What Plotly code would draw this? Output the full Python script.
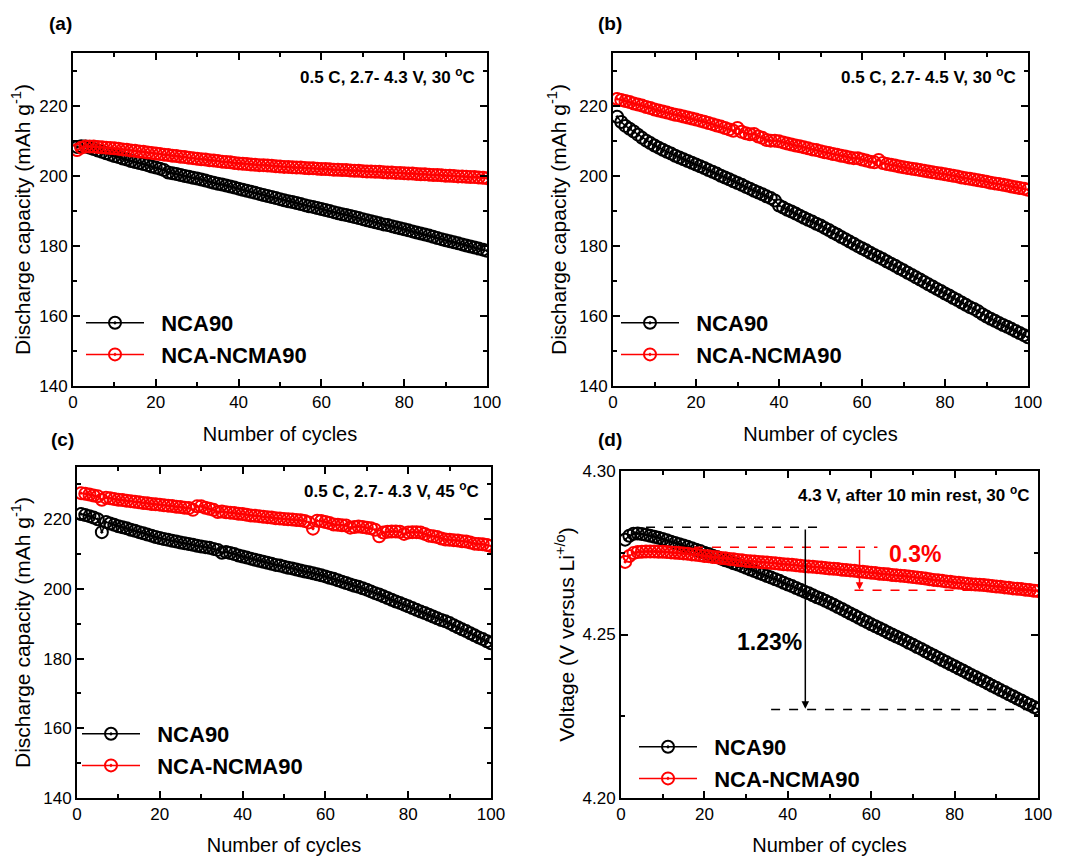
import plotly.graph_objects as go

cycles = list(range(1, 101))

# (a) 0.5 C, 2.7-4.3 V, 30 C
a_nca90 = [208.2, 208.4, 208.3, 208.0, 207.6, 207.2, 206.8, 206.4, 206.0, 205.6,
           205.3, 204.9, 204.6, 204.2, 203.9, 203.6, 203.3, 203.0, 202.6, 202.3,
           202.0, 201.6, 200.9, 200.7, 200.5, 200.2, 199.9, 199.7, 199.4, 199.2,
           198.9, 198.6, 198.3, 198.0, 197.7, 197.5, 197.2, 196.9, 196.6, 196.3,
           196.0, 195.7, 195.4, 195.1, 194.8, 194.5, 194.2, 193.9, 193.6, 193.3,
           193.0, 192.7, 192.5, 192.2, 191.9, 191.6, 191.3, 191.1, 190.8, 190.5,
           190.2, 189.9, 189.6, 189.3, 189.0, 188.8, 188.5, 188.2, 187.9, 187.6,
           187.3, 187.0, 186.7, 186.4, 186.1, 185.9, 185.6, 185.3, 185.0, 184.7,
           184.4, 184.1, 183.8, 183.5, 183.2, 182.9, 182.6, 182.2, 181.9, 181.6,
           181.3, 181.0, 180.7, 180.4, 180.1, 179.8, 179.5, 179.2, 178.9, 178.6]
a_ncma90 = [207.3, 208.0, 208.3, 208.3, 208.3, 208.2, 208.1, 208.0, 207.9, 207.8,
            207.7, 207.5, 207.4, 207.2, 207.1, 206.9, 206.8, 206.6, 206.5, 206.3,
            206.2, 206.0, 205.9, 205.7, 205.6, 205.4, 205.3, 205.1, 205.0, 204.8,
            204.7, 204.6, 204.4, 204.3, 204.2, 204.0, 203.9, 203.8, 203.6, 203.5,
            203.4, 203.3, 203.2, 203.1, 203.0, 203.0, 202.9, 202.8, 202.7, 202.6,
            202.5, 202.5, 202.4, 202.3, 202.3, 202.2, 202.1, 202.1, 202.0, 201.9,
            201.9, 201.8, 201.7, 201.7, 201.6, 201.6, 201.5, 201.4, 201.4, 201.3,
            201.2, 201.2, 201.1, 201.1, 201.0, 200.9, 200.9, 200.8, 200.8, 200.7,
            200.6, 200.6, 200.5, 200.4, 200.4, 200.3, 200.2, 200.2, 200.1, 200.0,
            200.0, 199.9, 199.8, 199.8, 199.7, 199.6, 199.6, 199.5, 199.4, 199.3]

# (b) 0.5 C, 2.7-4.5 V, 30 C
b_nca90 = [216.8, 215.3, 214.2, 213.4, 212.6, 211.7, 210.8, 210.0, 209.3, 208.6,
           208.0, 207.4, 206.8, 206.3, 205.7, 205.2, 204.7, 204.2, 203.7, 203.2,
           202.7, 202.2, 201.6, 201.1, 200.6, 200.0, 199.5, 199.0, 198.4, 197.9,
           197.4, 196.8, 196.3, 195.7, 195.2, 194.7, 194.1, 193.6, 192.9, 191.5,
           190.9, 190.3, 189.8, 189.2, 188.6, 188.0, 187.4, 186.9, 186.3, 185.8,
           185.1, 184.5, 183.8, 183.2, 182.5, 181.9, 181.2, 180.6, 179.9, 179.3,
           178.7, 178.0, 177.4, 176.8, 176.2, 175.5, 174.9, 174.3, 173.6, 173.0,
           172.3, 171.7, 171.0, 170.4, 169.7, 169.0, 168.4, 167.7, 167.1, 166.4,
           165.8, 165.1, 164.5, 163.8, 163.2, 162.5, 162.0, 161.3, 160.5, 159.8,
           159.2, 158.6, 158.0, 157.4, 156.9, 156.3, 155.7, 155.1, 154.5, 153.9]
b_ncma90 = [221.9, 221.6, 221.3, 221.0, 220.6, 220.3, 220.0, 219.6, 219.3, 218.9,
            218.6, 218.3, 218.0, 217.7, 217.4, 217.2, 216.9, 216.6, 216.3, 216.0,
            215.7, 215.4, 215.0, 214.7, 214.3, 214.0, 213.6, 213.2, 212.8, 213.6,
            212.5, 212.1, 211.8, 211.9, 211.2, 210.8, 210.2, 210.0, 210.0, 209.8,
            209.5, 209.2, 208.9, 208.6, 208.4, 208.1, 207.8, 207.5, 207.3, 207.0,
            206.7, 206.5, 206.2, 206.0, 205.7, 205.5, 205.2, 205.0, 205.0, 204.6,
            204.3, 204.0, 203.8, 204.5, 203.6, 203.3, 203.1, 202.9, 202.6, 202.4,
            202.2, 202.0, 201.8, 201.6, 201.4, 201.2, 201.0, 200.8, 200.6, 200.4,
            200.2, 200.0, 199.8, 199.5, 199.3, 199.1, 198.9, 198.7, 198.5, 198.3,
            198.0, 197.8, 197.6, 197.4, 197.2, 196.9, 196.7, 196.5, 196.3, 196.0]

# (c) 0.5 C, 2.7-4.3 V, 45 C
c_nca90 = [221.5, 221.2, 220.9, 220.5, 220.0, 216.3, 219.2, 218.8, 218.4, 218.0,
           217.7, 217.4, 217.0, 216.7, 216.3, 216.0, 215.6, 215.3, 214.9, 214.6,
           214.3, 214.1, 213.8, 213.6, 213.3, 213.1, 212.9, 212.7, 212.4, 212.2,
           212.0, 211.8, 211.5, 211.2, 210.4, 210.6, 210.3, 210.0, 209.6, 209.3,
           209.0, 208.7, 208.4, 208.1, 207.8, 207.5, 207.2, 206.9, 206.7, 206.4,
           206.1, 205.9, 205.6, 205.3, 205.0, 204.8, 204.5, 204.2, 203.9, 203.6,
           203.2, 202.9, 202.5, 202.1, 201.7, 201.3, 200.9, 200.6, 200.2, 199.8,
           199.3, 198.8, 198.4, 197.9, 197.4, 196.9, 196.4, 196.0, 195.5, 195.0,
           194.5, 194.0, 193.5, 193.1, 192.6, 192.1, 191.6, 191.1, 190.7, 190.2,
           189.6, 189.0, 188.4, 187.9, 187.3, 186.7, 186.1, 185.6, 185.0, 184.4]
c_ncma90 = [227.5, 227.3, 227.1, 226.8, 226.6, 225.6, 226.2, 226.0, 225.8, 225.6,
            225.5, 225.3, 225.2, 225.0, 224.9, 224.7, 224.6, 224.4, 224.3, 224.2,
            224.0, 223.9, 223.8, 223.6, 223.5, 223.3, 223.2, 222.7, 223.7, 223.7,
            223.3, 223.0, 222.7, 222.1, 222.2, 222.0, 221.9, 221.8, 221.6, 221.5,
            221.3, 221.1, 221.0, 220.9, 220.7, 220.6, 220.5, 220.3, 220.2, 220.1,
            220.0, 219.9, 219.8, 219.7, 219.5, 219.1, 217.3, 219.6, 219.5, 219.2,
            218.9, 218.5, 218.4, 218.3, 218.2, 217.6, 217.8, 217.9, 217.8, 217.6,
            217.4, 217.0, 215.1, 216.2, 216.4, 216.5, 216.5, 216.4, 215.8, 216.2,
            216.3, 216.3, 216.2, 215.8, 215.3, 215.1, 214.9, 214.5, 214.2, 214.1,
            214.0, 213.9, 213.7, 213.6, 213.3, 213.0, 212.9, 212.8, 212.6, 212.3]

# (d) 4.3 V, after 10 min rest, 30 C
d_nca90 = [4.2790, 4.2802, 4.2808, 4.2809, 4.2807, 4.2805, 4.2802, 4.2799, 4.2796, 4.2792,
           4.2788, 4.2784, 4.2780, 4.2776, 4.2772, 4.2768, 4.2764, 4.2759, 4.2755, 4.2750,
           4.2746, 4.2741, 4.2737, 4.2732, 4.2727, 4.2723, 4.2718, 4.2714, 4.2709, 4.2704,
           4.2699, 4.2694, 4.2689, 4.2684, 4.2679, 4.2674, 4.2669, 4.2664, 4.2658, 4.2653,
           4.2648, 4.2642, 4.2637, 4.2631, 4.2626, 4.2620, 4.2614, 4.2609, 4.2603, 4.2597,
           4.2591, 4.2584, 4.2578, 4.2571, 4.2564, 4.2558, 4.2551, 4.2544, 4.2538, 4.2531,
           4.2525, 4.2519, 4.2513, 4.2506, 4.2500, 4.2494, 4.2488, 4.2482, 4.2475, 4.2469,
           4.2462, 4.2456, 4.2449, 4.2442, 4.2436, 4.2429, 4.2422, 4.2416, 4.2409, 4.2403,
           4.2396, 4.2390, 4.2383, 4.2376, 4.2370, 4.2363, 4.2357, 4.2350, 4.2343, 4.2337,
           4.2330, 4.2324, 4.2317, 4.2311, 4.2304, 4.2298, 4.2291, 4.2285, 4.2278, 4.2272]
d_ncma90 = [4.2722, 4.2740, 4.2749, 4.2752, 4.2753, 4.2754, 4.2754, 4.2754, 4.2753, 4.2753,
            4.2752, 4.2751, 4.2750, 4.2749, 4.2748, 4.2747, 4.2745, 4.2744, 4.2742, 4.2740,
            4.2739, 4.2737, 4.2736, 4.2734, 4.2733, 4.2731, 4.2730, 4.2728, 4.2727, 4.2725,
            4.2724, 4.2723, 4.2722, 4.2721, 4.2720, 4.2719, 4.2718, 4.2716, 4.2715, 4.2714,
            4.2713, 4.2712, 4.2710, 4.2709, 4.2708, 4.2707, 4.2706, 4.2705, 4.2703, 4.2702,
            4.2701, 4.2700, 4.2698, 4.2697, 4.2696, 4.2695, 4.2693, 4.2692, 4.2690, 4.2689,
            4.2688, 4.2686, 4.2685, 4.2684, 4.2682, 4.2681, 4.2680, 4.2679, 4.2677, 4.2676,
            4.2674, 4.2673, 4.2671, 4.2669, 4.2667, 4.2666, 4.2664, 4.2662, 4.2661, 4.2659,
            4.2658, 4.2657, 4.2655, 4.2654, 4.2653, 4.2652, 4.2651, 4.2650, 4.2648, 4.2647,
            4.2646, 4.2644, 4.2643, 4.2641, 4.2640, 4.2639, 4.2637, 4.2636, 4.2634, 4.2633]

series_names = ["&nbsp;&nbsp;NCA90", "&nbsp;&nbsp;NCA-NCMA90"]
series_colors = ["#000000", "#FF0000"]
panel_labels = ["(a)", "(b)", "(c)", "(d)"]
conditions = ["0.5 C, 2.7- 4.3 V, 30 <sup>o</sup>C",
              "0.5 C, 2.7- 4.5 V, 30 <sup>o</sup>C",
              "0.5 C, 2.7- 4.3 V, 45 <sup>o</sup>C",
              "4.3 V, after 10 min rest, 30 <sup>o</sup>C"]
x_title = "Number of cycles"
y_titles = ["Discharge capacity (mAh g<sup>-1</sup>)"] * 3 + ["Voltage (V versus Li<sup>+/o</sup>)"]
d_annot = {"1.23%": (35.5, 4.2476), "0.3%": (70.5, 4.2747)}

panels = [(a_nca90, a_ncma90), (b_nca90, b_ncma90), (c_nca90, c_ncma90), (d_nca90, d_ncma90)]

FONT = "Liberation Sans, Arial, sans-serif"
# the page body adds an 8px offset; layout is specified in window pixels
OFF = 8
W, H = 1066 - OFF, 856 - OFF


def fx(px):
    return (px - OFF) / W


def fy(py):
    return 1 - (py - OFF) / H


# plot areas in window pixels: left, right, top, bottom
boxes = [(73, 487, 53, 386), (613, 1028, 53, 386), (77, 491, 467, 798), (621, 1038, 471, 798)]
legend_pos = [(81, 302), (616, 302), (77, 713), (634, 726)]
ytitle_standoff = [7, 7, 7, 2]

fig = go.Figure()

for i, (s1, s2) in enumerate(panels):
    k = "" if i == 0 else str(i + 1)
    leg = "legend" if i == 0 else "legend" + str(i + 1)
    for name, color, vals in zip(series_names, series_colors, (s1, s2)):
        fig.add_trace(go.Scatter(
            x=cycles, y=vals, name=name, mode="lines+markers",
            xaxis="x" + k, yaxis="y" + k, legend=leg,
            line=dict(color=color, width=1.5),
            marker=dict(symbol="circle-open-dot", size=12, color=color,
                        line=dict(color=color, width=2)),
        ))

layout = dict(width=W, height=H, margin=dict(l=0, r=0, t=0, b=0, pad=0, autoexpand=False),
              paper_bgcolor="white", plot_bgcolor="white",
              font=dict(family=FONT, color="black"), showlegend=True)

for i in range(4):
    k = "" if i == 0 else str(i + 1)
    l, r, t, b = boxes[i]
    is_v = (i == 3)
    common = dict(showline=True, linecolor="black", linewidth=2, mirror="ticks",
                  ticks="inside", ticklen=7, tickwidth=1.5, tickcolor="black",
                  showgrid=False, zeroline=False, automargin=False,
                  tickfont=dict(family=FONT, size=17, color="black"))
    layout["xaxis" + k] = dict(common, domain=[fx(l), fx(r)], anchor="y" + k,
                               range=[0, 100], dtick=20, tick0=0,
                               minor=dict(dtick=10, ticks="inside", ticklen=4, tickcolor="black", tickwidth=1.5),
                               title=dict(text=x_title, font=dict(family=FONT, size=20), standoff=16))
    layout["yaxis" + k] = dict(common, domain=[fy(b), fy(t)], anchor="x" + k,
                               range=[4.20, 4.30] if is_v else [140, 235],
                               dtick=0.05 if is_v else 20, tick0=4.2 if is_v else 140,
                               tickformat=".2f" if is_v else "d",
                               minor=dict(dtick=0.025 if is_v else 10, ticks="inside", ticklen=4,
                                          tickcolor="black", tickwidth=1.5),
                               title=dict(text=y_titles[i], font=dict(family=FONT, size=21),
                                          standoff=ytitle_standoff[i]))
    lx, ly = legend_pos[i]
    layout["legend" if i == 0 else "legend" + str(i + 1)] = dict(
        x=fx(lx), y=fy(ly), xanchor="left", yanchor="top",
        bgcolor="rgba(0,0,0,0)", font=dict(family=FONT, size=22, weight="bold", color="black"),
        tracegroupgap=0, itemwidth=58)

annotations = []
for i in range(4):
    k = "" if i == 0 else str(i + 1)
    annotations.append(dict(text=conditions[i], xref="x" + k + " domain", yref="y" + k + " domain",
                            x=0.975 if i != 3 else 0.985, y=0.93, xanchor="right", yanchor="middle",
                            showarrow=False, font=dict(family=FONT, size=17, weight="bold")))
label_pos = [(47, 24), (596, 24), (49, 439), (596, 439)]
for lab, (px, py) in zip(panel_labels, label_pos):
    annotations.append(dict(text=lab, xref="paper", yref="paper", x=fx(px), y=fy(py),
                            xanchor="left", yanchor="middle", showarrow=False,
                            font=dict(family=FONT, size=19, weight="bold")))
# panel (d) annotations
annotations.append(dict(text="1.23%", x=d_annot["1.23%"][0], y=d_annot["1.23%"][1], xref="x4", yref="y4",
                        showarrow=False, font=dict(family=FONT, size=23, weight="bold", color="black")))
annotations.append(dict(text="0.3%", x=d_annot["0.3%"][0], y=d_annot["0.3%"][1], xref="x4", yref="y4",
                        showarrow=False, font=dict(family=FONT, size=23, weight="bold", color="#FF0000")))
annotations.append(dict(text="", x=44.2, y=4.2273, ax=44.2, ay=4.2826, xref="x4", yref="y4",
                        axref="x4", ayref="y4", showarrow=True, arrowhead=2, arrowsize=1,
                        arrowwidth=1.5, arrowcolor="black"))
annotations.append(dict(text="", x=57.2, y=4.2637, ax=57.2, ay=4.2764, xref="x4", yref="y4",
                        axref="x4", ayref="y4", showarrow=True, arrowhead=2, arrowsize=1,
                        arrowwidth=1.5, arrowcolor="#FF0000"))
layout["annotations"] = annotations

dash_lines = [(6, 48, 4.2828, "black"), (36, 100, 4.2271, "black"),
              (17.5, 61.5, 4.2767, "#FF0000"), (56, 100, 4.2635, "#FF0000")]
layout["shapes"] = [dict(type="line", xref="x4", yref="y4", x0=x0, x1=x1, y0=yv, y1=yv,
                         line=dict(color=c, width=1.5, dash="dash"))
                    for x0, x1, yv, c in dash_lines]

fig.update_layout(layout)
fig.write_html("out.html")
